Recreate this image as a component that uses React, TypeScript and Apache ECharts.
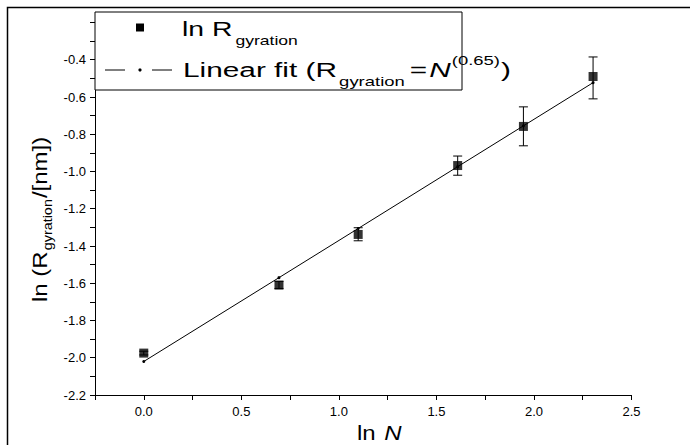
import React, { useEffect, useRef } from 'react';
import * as echarts from 'echarts';

// ---- data ----
const lnN = [0, 0.693, 1.099, 1.609, 1.946, 2.303];
const lnR = [-1.975, -1.61, -1.338, -0.968, -0.758, -0.49];
const errLow = [-1.985, -1.628, -1.372, -1.02, -0.862, -0.61];
const errHigh = [-1.965, -1.59, -1.302, -0.917, -0.653, -0.385];
const fitX = [0, 0.693, 1.099, 1.609, 1.946, 2.303];
const fitY = [-2.02, -1.57, -1.306, -0.974, -0.755, -0.523];
const xAxisRange = [-0.25, 2.5];
const yAxisRange = [-2.2, -0.2];

const FONT = '"Liberation Sans", Arial, sans-serif';

type Frag = { t: string; s: number; dy?: number; it?: boolean; gap?: number };

function measure(ctx: CanvasRenderingContext2D, f: Frag) {
  ctx.font = `${f.it ? 'italic ' : ''}${f.s}px "Liberation Sans", Arial, sans-serif`;
  return ctx.measureText(f.t).width;
}

function layoutFrags(ctx: CanvasRenderingContext2D, x0: number, yc: number, frags: Frag[], sx: number) {
  const els: any[] = [];
  let x = x0;
  for (const f of frags) {
    x += f.gap || 0;
    els.push({
      type: 'text',
      x,
      y: yc + (f.dy || 0),
      scaleX: sx,
      style: {
        text: f.t,
        fontSize: f.s,
        fontFamily: FONT,
        fontStyle: f.it ? 'italic' : 'normal',
        fill: '#000',
        align: 'left',
        verticalAlign: 'middle',
      },
    });
    x += measure(ctx, f) * sx;
  }
  return els;
}

export default function App() {
  const ref = useRef<HTMLDivElement>(null);
  useEffect(() => {
    if (!ref.current) return;
    const chart = echarts.init(ref.current, undefined, { renderer: 'svg' });
    const canvas = document.createElement('canvas');
    const ctx = canvas.getContext('2d') as CanvasRenderingContext2D;

    const legendRow1 = layoutFrags(ctx, 182, 28, [
      { t: 'ln R', s: 21 },
      { t: 'gyration', s: 13, dy: 12, gap: 3 },
    ], 1.35);
    const legendRow2 = layoutFrags(ctx, 183, 70, [
      { t: 'Linear fit (R', s: 21 },
      { t: 'gyration', s: 13, dy: 12, gap: 2 },
      { t: '=', s: 21, gap: 5 },
      { t: 'N', s: 21, it: true, gap: 2 },
      { t: '(0.65)', s: 13, dy: -9, gap: 1 },
      { t: ')', s: 21, gap: 1 },
    ], 1.42);

    const yTitle = layoutFrags(ctx, 0, 0, [
      { t: 'ln (R', s: 20 },
      { t: 'gyration', s: 12, dy: 8, gap: 1 },
      { t: '/[nm])', s: 20, gap: 1 },
    ], 1.2);

    const xTitle = layoutFrags(ctx, 357, 433, [
      { t: 'ln ', s: 20 },
      { t: 'N', s: 20, it: true, gap: 2 },
    ], 1.2);

    const option: any = {
      animation: false,
      backgroundColor: '#fff',
      grid: { left: 95, right: 58.5, top: 22.5, bottom: 50, containLabel: false },
      xAxis: {
        type: 'value',
        min: xAxisRange[0],
        max: xAxisRange[1],
        interval: 0.25,
        splitLine: { show: false },
        axisLine: { show: true, onZero: false, lineStyle: { color: '#000', width: 1 } },
        axisTick: { show: true, inside: false, length: 5, lineStyle: { color: '#000' } },
        axisLabel: {
          color: '#000',
          fontSize: 13,
          fontFamily: FONT,
          margin: 10,
          formatter: (v: number) => (Math.abs(v * 2 - Math.round(v * 2)) < 1e-6 ? v.toFixed(1) : ''),
        },
      },
      yAxis: {
        type: 'value',
        min: yAxisRange[0],
        max: yAxisRange[1],
        interval: 0.1,
        splitLine: { show: false },
        axisLine: { show: true, onZero: false, lineStyle: { color: '#000', width: 1 } },
        axisTick: { show: true, inside: false, length: 5, lineStyle: { color: '#000' } },
        axisLabel: {
          color: '#000',
          fontSize: 13,
          fontFamily: FONT,
          margin: 9,
          formatter: (v: number) => {
            const k = Math.round(v * 10);
            if (Math.abs(v * 10 - k) > 1e-6 || k % 2 !== 0 || v > -0.35) return '';
            return v.toFixed(1);
          },
        },
      },
      series: [
        {
          name: 'Linear fit',
          type: 'line',
          data: fitX.map((x, i) => [x, fitY[i]]),
          symbol: 'circle',
          symbolSize: 3,
          showSymbol: true,
          lineStyle: { color: '#000', width: 1 },
          itemStyle: { color: '#000' },
          z: 2,
        },
        {
          name: 'errors',
          type: 'custom',
          data: lnN.map((x, i) => [x, errLow[i], errHigh[i]]),
          encode: { x: 0, y: [1, 2] },
          renderItem: (params: any, api: any) => {
            const x = api.value(0);
            const p1 = api.coord([x, api.value(1)]);
            const p2 = api.coord([x, api.value(2)]);
            const hw = 4.5;
            const st = { stroke: '#000', lineWidth: 1 };
            return {
              type: 'group',
              children: [
                { type: 'line', shape: { x1: p1[0], y1: p1[1], x2: p2[0], y2: p2[1] }, style: st },
                { type: 'line', shape: { x1: p1[0] - hw, y1: p1[1], x2: p1[0] + hw, y2: p1[1] }, style: st },
                { type: 'line', shape: { x1: p2[0] - hw, y1: p2[1], x2: p2[0] + hw, y2: p2[1] }, style: st },
              ],
            };
          },
          z: 3,
        },
        {
          name: 'ln R gyration',
          type: 'scatter',
          data: lnN.map((x, i) => [x, lnR[i]]),
          symbol: 'rect',
          symbolSize: 9,
          itemStyle: { color: '#000' },
          z: 4,
        },
      ],
      graphic: [
        {
          type: 'polyline',
          shape: { points: [[7.5, 445], [7.5, 7.5], [690, 7.5]] },
          style: { stroke: '#000', lineWidth: 1.5, fill: null },
          z: 100,
        },
        {
          type: 'rect',
          shape: { x: 95, y: 12, width: 367, height: 78 },
          style: { fill: '#fff', stroke: '#000', lineWidth: 1 },
          z: 100,
        },
        {
          type: 'rect',
          shape: { x: 136, y: 23.5, width: 8, height: 8 },
          style: { fill: '#000' },
          z: 101,
        },
        {
          type: 'line',
          shape: { x1: 105, y1: 70, x2: 125, y2: 70 },
          style: { stroke: '#000', lineWidth: 1 },
          z: 101,
        },
        {
          type: 'circle',
          shape: { cx: 140, cy: 70, r: 1.6 },
          style: { fill: '#000' },
          z: 101,
        },
        {
          type: 'line',
          shape: { x1: 152, y1: 70, x2: 172, y2: 70 },
          style: { stroke: '#000', lineWidth: 1 },
          z: 101,
        },
        ...legendRow1.map((e) => ({ ...e, z: 101 })),
        ...legendRow2.map((e) => ({ ...e, z: 101 })),
        { type: 'group', x: 40, y: 302, rotation: Math.PI / 2, children: yTitle, z: 101 },
        ...xTitle.map((e) => ({ ...e, z: 101 })),
      ],
    };
    chart.setOption(option);
    return () => chart.dispose();
  }, []);
  return (
    <div
      ref={ref}
      style={{ position: 'fixed', left: 0, top: 0, width: 690, height: 445, background: '#fff' }}
    />
  );
}
